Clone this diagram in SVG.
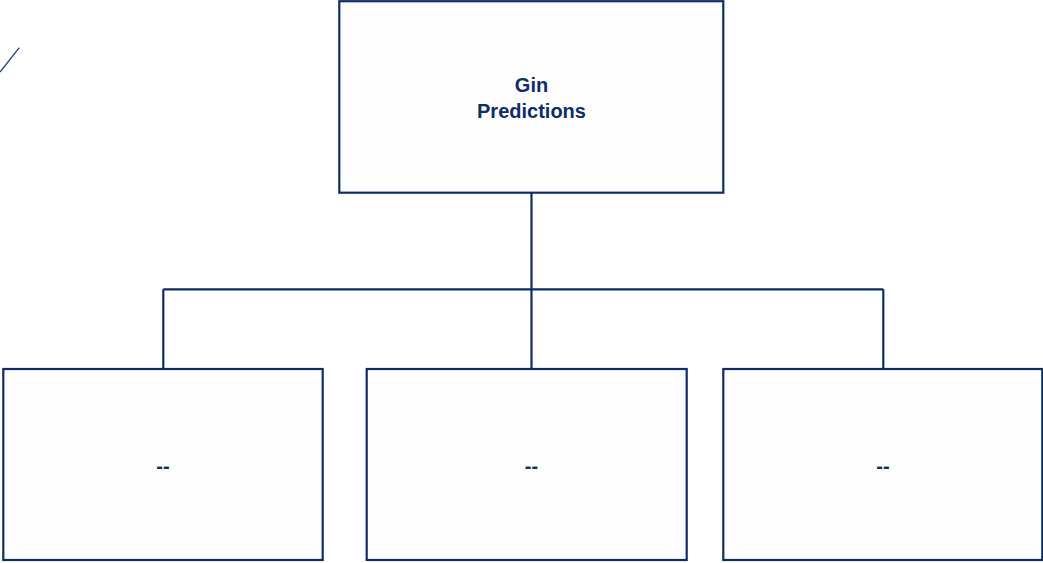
<svg xmlns="http://www.w3.org/2000/svg" width="1043" height="563" viewBox="0 0 1043 563">
<style>
.box{fill:#fdfdfd;stroke:#0e2d67;stroke-width:2.2}
.ln{fill:none;stroke:#0e2d67;stroke-width:2.2}
.t{font-family:"Liberation Sans",Arial,sans-serif;font-weight:bold;font-size:20px;fill:#0e2d67;text-anchor:middle}
</style>
<rect width="1043" height="563" fill="#ffffff"/>
<line x1="0" y1="72" x2="19.3" y2="47.7" stroke="#1d3f7a" stroke-width="1.3"/>
<g id="connectors">
<path class="ln" d="M531.5 193 V369 M163.3 289.3 H883.3 M163.3 289.3 V369 M883.3 289.3 V369"/>
</g>
<g id="node-top">
<rect class="box" x="339.3" y="1.2" width="384" height="191.5"/>
<text class="t" x="531.5" y="91.7">Gin</text>
<text class="t" x="531.5" y="117.7">Predictions</text>
</g>
<g id="node-left">
<rect class="box" x="3.3" y="369" width="319.4" height="191"/>
<text class="t" x="163" y="473">--</text>
</g>
<g id="node-middle">
<rect class="box" x="366.7" y="369" width="320" height="191"/>
<text class="t" x="531.5" y="473">--</text>
</g>
<g id="node-right">
<rect class="box" x="723.3" y="369" width="319" height="191"/>
<text class="t" x="883" y="473">--</text>
</g>
</svg>
